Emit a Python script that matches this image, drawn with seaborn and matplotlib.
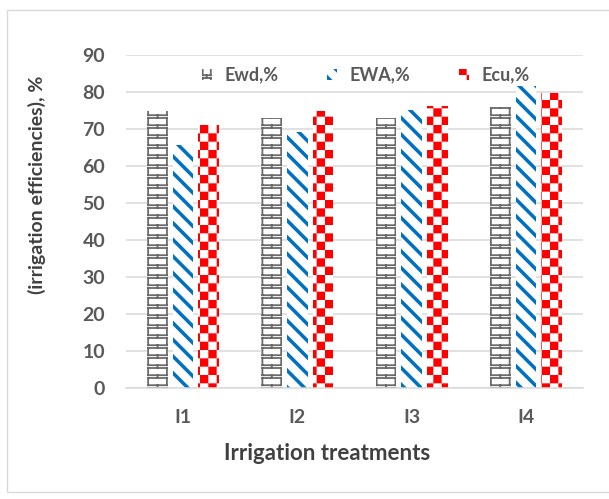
import warnings
warnings.filterwarnings("ignore")
import numpy as np
import pandas as pd
import matplotlib
matplotlib.use("Agg")
import matplotlib.pyplot as plt
import matplotlib.hatch as mhatch
from matplotlib.path import Path
from matplotlib.patches import Patch, Rectangle
import seaborn as sns

# ---------------- data ----------------
treatments = ["I1", "I2", "I3", "I4"]
ewd = [75.0, 72.9, 73.0, 76.0]
ewa = [65.7, 69.3, 75.1, 81.6]
ecu = [71.1, 74.9, 76.2, 79.6]
series_names = ["Ewd,%", "EWA,%", "Ecu,%"]
y_ticks = [0, 10, 20, 30, 40, 50, 60, 70, 80, 90]
x_title = "Irrigation treatments"
y_title = "(irrigation efficiencies), %"

# ---------------- custom hatch patterns ----------------
DPI = 100
HATCH_LW = 1.3
LWU = HATCH_LW / 72.0  # hatch linewidth in tile units (tile = 1 inch)


def _segments_to_path(segs):
    v, c = [], []
    for a, b in segs:
        v += [a, b]
        c += [Path.MOVETO, Path.LINETO]
    return np.array(v, float), np.array(c, Path.code_type)


def _polys_to_path(polys):
    v, c = [], []
    for p in polys:
        v += list(p) + [p[0]]
        c += [Path.MOVETO] + [Path.LINETO] * (len(p) - 1) + [Path.CLOSEPOLY]
    return np.array(v, float), np.array(c, Path.code_type)


def _periodic(segs):
    out = []
    for dx in (-1, 0, 1):
        for dy in (-1, 0, 1):
            for a, b in segs:
                out.append(((a[0] + dx, a[1] + dy), (b[0] + dx, b[1] + dy)))
    return out


def _brick_builder(xl, xr):
    """Brick boxes fitted to a patch spanning display x in [xl, xr]."""
    def build():
        rows = 10
        P = 1.0 / rows
        gap = 0.28 * P
        yo = 0.02
        inset = (HATCH_LW * DPI / 72.0) / 2 / DPI
        u0 = (xl % DPI) / DPI
        w = (xr - xl) / DPI
        a, b = u0 + inset, u0 + w - inset
        m = (a + b) / 2
        segs = []
        for r in range(rows):
            y0 = r * P + yo
            segs += [((a, y0), (b, y0)), ((a, y0 + gap), (b, y0 + gap)),
                     ((m, y0), (m, y0 + gap)),
                     ((a, y0 + gap), (a, y0 + P)), ((b, y0 + gap), (b, y0 + P))]
        return _segments_to_path(_periodic(segs))
    return build


def _checker():
    n = 12
    s = 1.0 / n
    d = LWU / 2
    polys = []
    for i in range(n):
        for j in range(n):
            if (i + j) % 2 == 0:
                x0, y0 = i * s + d, j * s + d
                x1, y1 = (i + 1) * s - d, (j + 1) * s - d
                polys.append([(x0, y0), (x1, y0), (x1, y1), (x0, y1)])
    return _polys_to_path(polys)


def _stripes():
    n = 6
    hv = max(0.002, (0.05 - LWU * np.sqrt(2)) / 2)
    polys = []
    for k in range(-1, 2 * n + 2):
        c = k / n
        polys.append([(-0.05, c + 0.05 - hv), (-0.05, c + 0.05 + hv),
                      (1.05, c - 1.05 + hv), (1.05, c - 1.05 - hv)])
    return _polys_to_path(polys)


class _CustomHatch(mhatch.HatchPatternBase):
    char = None
    builder = None

    def __init__(self, hatch, density):
        if hatch.count(self.char):
            self._v, self._c = type(self).builder()
            self.num_vertices = len(self._v)
        else:
            self.num_vertices = 0

    def set_vertices_and_codes(self, vertices, codes):
        vertices[:] = self._v
        codes[:] = self._c


def register_hatch(char, builder):
    cls = type("Hatch_" + char, (_CustomHatch,),
               {"char": char, "builder": staticmethod(builder)})
    mhatch._hatch_types.append(cls)
    return char


register_hatch("k", _checker)
register_hatch("w", _stripes)
_brick_chars = iter("ABCDEFGHJLMNPQRSTUVWYZ")

# ---------------- style ----------------
sns.set_theme(style="white")
plt.rcParams["font.family"] = ["Lato", "DejaVu Sans"]
plt.rcParams["font.weight"] = "bold"
plt.rcParams["hatch.linewidth"] = HATCH_LW

colors = ["#6A6A6A", "#0070C0", "#FF0000"]
hatches = [None, "w", "k"]

df = pd.DataFrame({
    "Treatment": treatments * 3,
    "Series": [series_names[0]] * 4 + [series_names[1]] * 4 + [series_names[2]] * 4,
    "Value": ewd + ewa + ecu,
})

fig = plt.figure(figsize=(6.09, 4.99), dpi=DPI)
ax = fig.add_axes([126 / 609, 1 - 388 / 499, 457 / 609, 333 / 499])

sns.barplot(data=df, x="Treatment", y="Value", hue="Series", order=treatments,
            hue_order=series_names, palette=colors, width=0.672, gap=0.196,
            errorbar=None, legend=False, ax=ax)

ax.set_xlim(-0.5, 3.5)
ax.set_ylim(0, 90)


def style_patch(p, col, h):
    p.set_facecolor("white")
    p.set_edgecolor(col)
    p.set_linewidth(0)
    if h is None:
        ext = p.get_window_extent()
        h = register_hatch(next(_brick_chars), _brick_builder(ext.x0, ext.x1))
    p.set_hatch(h)


for cont, col, h in zip(ax.containers, colors, hatches):
    for bar in cont:
        style_patch(bar, col, h)

ax.set_yticks(y_ticks)
ax.grid(axis="y", color="#D9D9D9", linewidth=1.1)
ax.grid(axis="x", visible=False)
ax.set_axisbelow(True)
for s in ["left", "right", "top"]:
    ax.spines[s].set_visible(False)
ax.spines["bottom"].set_color("#D9D9D9")
ax.spines["bottom"].set_linewidth(1.1)
ax.tick_params(axis="both", length=0, pad=15, labelsize=14, labelcolor="#595959")

ax.set_xlabel(x_title, fontsize=16, color="#404040", fontweight="bold")
ax.set_ylabel(y_title, fontsize=14, color="#404040", fontweight="bold")
ax.xaxis.set_label_coords((327.5 - 126) / 457, (388 - 443) / 333)
ax.yaxis.set_label_coords((46 - 126) / 457, (388 - 185) / 333)

handles = [Patch(facecolor="white", edgecolor=c, hatch=(h or "k"), linewidth=0)
           for c, h in zip(colors, hatches)]
leg = ax.legend(handles, series_names, loc="center", bbox_to_anchor=(0.525, 0.94),
                ncol=3, frameon=False, fontsize=13, handlelength=0.55,
                handleheight=0.55, handletextpad=0.7, columnspacing=2.7)
for t in leg.get_texts():
    t.set_color("#595959")

fig.add_artist(Rectangle((7 / 609, 1 - 492 / 499), 1.0, (492 - 10) / 499,
                         transform=fig.transFigure, facecolor="none",
                         edgecolor="#D9D9D9", linewidth=1.0))

# fit the brick pattern of the legend key to its drawn position
fig.canvas.draw()
lh = leg.legend_handles[0]
style_patch(lh, colors[0], None)

fig.savefig("out.png", dpi=DPI)
